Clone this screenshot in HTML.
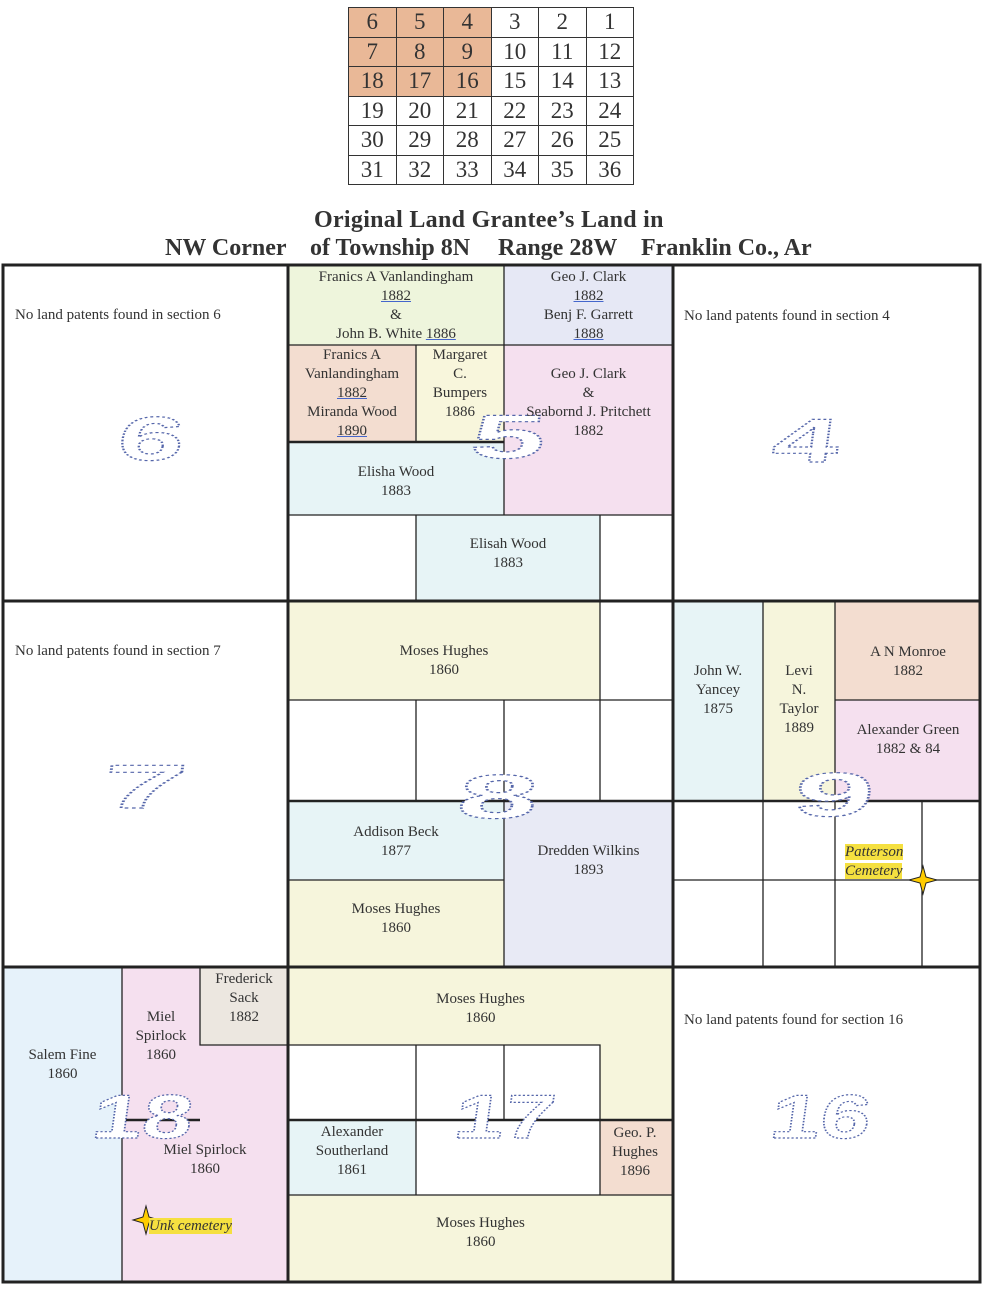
<!DOCTYPE html>
<html><head><meta charset="utf-8"><style>
body{margin:0;background:#fff;width:987px;height:1291px;position:relative;overflow:hidden;font-family:"Liberation Serif",serif;color:#333}
.r{position:absolute;box-sizing:border-box}
.t{position:absolute;font-size:15px;line-height:19px;text-align:center;color:#333}
.u{text-decoration:underline;text-decoration-color:#46c}
table{position:absolute;left:348px;top:7px;border-collapse:collapse;table-layout:fixed;width:286px}
td{border:1.5px solid #333;height:28.5px;font-size:23px;padding:0;text-align:center;line-height:28px;overflow:hidden}
td.o{background:#e9b897}
.h{position:absolute;font-weight:bold;font-size:24px;white-space:pre}
.hl{background:#f5e040;font-style:italic}
</style></head><body>
<table>
<tr><td class=o>6</td><td class=o>5</td><td class=o>4</td><td>3</td><td>2</td><td>1</td></tr>
<tr><td class=o>7</td><td class=o>8</td><td class=o>9</td><td>10</td><td>11</td><td>12</td></tr>
<tr><td class=o>18</td><td class=o>17</td><td class=o>16</td><td>15</td><td>14</td><td>13</td></tr>
<tr><td>19</td><td>20</td><td>21</td><td>22</td><td>23</td><td>24</td></tr>
<tr><td>30</td><td>29</td><td>28</td><td>27</td><td>26</td><td>25</td></tr>
<tr><td>31</td><td>32</td><td>33</td><td>34</td><td>35</td><td>36</td></tr>
</table>
<div class=h style="left:314px;top:207px;letter-spacing:0.3px">Original Land Grantee’s Land in</div>
<div class=h style="left:165px;top:235px">NW Corner</div>
<div class=h style="left:310px;top:235px">of Township 8N</div>
<div class=h style="left:498px;top:235px">Range 28W</div>
<div class=h style="left:641px;top:235px">Franklin Co., Ar</div>

<!-- fills -->
<div class=r style="left:288px;top:264px;width:216px;height:81px;background:#eef5dc"></div>
<div class=r style="left:504px;top:264px;width:169px;height:81px;background:#e6e8f5"></div>
<div class=r style="left:288px;top:345px;width:128px;height:97px;background:#f3ddd0"></div>
<div class=r style="left:416px;top:345px;width:88px;height:97px;background:#f8f6dc"></div>
<div class=r style="left:504px;top:345px;width:169px;height:170px;background:#f5e0ef"></div>
<div class=r style="left:288px;top:442px;width:216px;height:73px;background:#e7f4f6"></div>
<div class=r style="left:416px;top:515px;width:184px;height:86px;background:#e7f4f6"></div>
<div class=r style="left:288px;top:601px;width:312px;height:99px;background:#f6f5dc"></div>
<div class=r style="left:288px;top:801px;width:216px;height:79px;background:#e7f4f6"></div>
<div class=r style="left:288px;top:880px;width:216px;height:87px;background:#f6f5dc"></div>
<div class=r style="left:504px;top:801px;width:169px;height:166px;background:#e8eaf5"></div>
<div class=r style="left:673px;top:601px;width:90px;height:200px;background:#e7f4f6"></div>
<div class=r style="left:763px;top:601px;width:72px;height:200px;background:#f6f5dc"></div>
<div class=r style="left:835px;top:601px;width:146px;height:99px;background:#f3ddd0"></div>
<div class=r style="left:835px;top:700px;width:146px;height:101px;background:#f5e0ef"></div>
<div class=r style="left:3px;top:967px;width:119px;height:315px;background:#e6f2fa"></div>
<div class=r style="left:122px;top:967px;width:166px;height:315px;background:#f5e0ef"></div>
<div class=r style="left:200px;top:967px;width:88px;height:78px;background:#ece7e0"></div>
<div class=r style="left:288px;top:967px;width:385px;height:78px;background:#f6f5dc"></div>
<div class=r style="left:600px;top:1045px;width:73px;height:75px;background:#f6f5dc"></div>
<div class=r style="left:288px;top:1120px;width:128px;height:75px;background:#e7f4f6"></div>
<div class=r style="left:600px;top:1120px;width:73px;height:75px;background:#f3ddd0"></div>
<div class=r style="left:288px;top:1195px;width:385px;height:87px;background:#f6f5dc"></div>

<svg class=r style="left:0;top:0" width="987" height="1291">
<g stroke="#222" fill="none">
<rect x="3" y="265" width="977" height="1017" stroke-width="3"/>
<line x1="288" y1="264" x2="288" y2="1282" stroke-width="3"/>
<line x1="673" y1="264" x2="673" y2="1282" stroke-width="3"/>
<line x1="3" y1="601" x2="981" y2="601" stroke-width="3"/>
<line x1="3" y1="967" x2="981" y2="967" stroke-width="3"/>
<g stroke-width="1.3">
<path d="M504 264V515M288 345H673M416 345V442M288 442H504M288 515H673M416 515V601M600 515V601"/>
<path d="M600 601V801M288 700H673M416 700V801M504 700V967M288 880H504"/>
<path d="M763 601V967M835 601V967M835 700H981M922 801V967M673 880H981"/>
<path d="M122 967V1282M200 967V1045H288"/>
<path d="M288 1045H600V1195M416 1045V1195M504 1045V1120M288 1120H673M288 1195H673"/>
</g>
<line x1="288" y1="801" x2="673" y2="801" stroke-width="2.5"/>
<line x1="673" y1="801" x2="981" y2="801" stroke-width="2.5"/>
<line x1="122" y1="1120" x2="200" y2="1120" stroke-width="2.5"/>
<line x1="288" y1="1120" x2="673" y2="1120" stroke-width="2.5"/>
<line x1="288" y1="442" x2="504" y2="442" stroke-width="2.5"/>
</g>
<g font-family="Liberation Sans,sans-serif" font-weight="bold" font-size="62" fill="#fff" stroke="#56a" stroke-width="1.2" stroke-dasharray="1.5,1.5" text-anchor="middle" transform="skewX(-8)">
<text x="213" y="460" textLength="66" lengthAdjust="spacingAndGlyphs">6</text>
<text x="570" y="458" textLength="74" lengthAdjust="spacingAndGlyphs">5</text>
<text x="868" y="462" textLength="66" lengthAdjust="spacingAndGlyphs">4</text>
<text x="255" y="808" textLength="84" lengthAdjust="spacingAndGlyphs">7</text>
<text x="610" y="818" textLength="80" lengthAdjust="spacingAndGlyphs">8</text>
<text x="946" y="816" textLength="80" lengthAdjust="spacingAndGlyphs">9</text>
<text x="300" y="1138" textLength="100" lengthAdjust="spacingAndGlyphs">18</text>
<text x="662" y="1138" textLength="100" lengthAdjust="spacingAndGlyphs">17</text>
<text x="978" y="1138" textLength="100" lengthAdjust="spacingAndGlyphs">16</text>
</g>
<path d="M923 866L926 877L937 880L926 883L923 894L920 883L909 880L920 877Z" fill="#fc0" stroke="#222"/>
<path d="M146 1206L149 1217L159 1220L149 1223L146 1234L143 1223L133 1220L143 1217Z" fill="#fc0" stroke="#222"/>
</svg>

<div class=t style="left:15px;top:306px;text-align:left">No land patents found in section 6</div>
<div class=t style="left:684px;top:307px;text-align:left">No land patents found in section 4</div>
<div class=t style="left:15px;top:642px;text-align:left">No land patents found in section 7</div>
<div class=t style="left:684px;top:1011px;text-align:left">No land patents found for section 16</div>

<div class=t style="left:288px;top:268px;width:216px">Franics A Vanlandingham<br><span class=u>1882</span><br>&amp;<br>John B. White <span class=u>1886</span></div>
<div class=t style="left:504px;top:268px;width:169px">Geo J. Clark<br><span class=u>1882</span><br>Benj F. Garrett<br><span class=u>1888</span></div>
<div class=t style="left:288px;top:346px;width:128px">Franics A<br>Vanlandingham<br><span class=u>1882</span><br>Miranda Wood<br><span class=u>1890</span></div>
<div class=t style="left:416px;top:346px;width:88px">Margaret<br>C.<br>Bumpers<br>1886</div>
<div class=t style="left:504px;top:365px;width:169px">Geo J. Clark<br>&amp;<br>Seabornd J. Pritchett<br>1882</div>
<div class=t style="left:288px;top:463px;width:216px">Elisha Wood<br>1883</div>
<div class=t style="left:416px;top:535px;width:184px">Elisah Wood<br>1883</div>
<div class=t style="left:288px;top:642px;width:312px">Moses Hughes<br>1860</div>
<div class=t style="left:288px;top:823px;width:216px">Addison Beck<br>1877</div>
<div class=t style="left:288px;top:900px;width:216px">Moses Hughes<br>1860</div>
<div class=t style="left:504px;top:842px;width:169px">Dredden Wilkins<br>1893</div>
<div class=t style="left:673px;top:662px;width:90px">John W.<br>Yancey<br>1875</div>
<div class=t style="left:763px;top:662px;width:72px">Levi<br>N.<br>Taylor<br>1889</div>
<div class=t style="left:835px;top:643px;width:146px">A N Monroe<br>1882</div>
<div class=t style="left:835px;top:721px;width:146px">Alexander Green<br>1882 &amp; 84</div>
<div class=t style="left:845px;top:843px;text-align:left"><span class=hl>Patterson<br>Cemetery</span></div>
<div class=t style="left:3px;top:1046px;width:119px">Salem Fine<br>1860</div>
<div class=t style="left:122px;top:1008px;width:78px">Miel<br>Spirlock<br>1860</div>
<div class=t style="left:200px;top:970px;width:88px">Frederick<br>Sack<br>1882</div>
<div class=t style="left:122px;top:1141px;width:166px">Miel Spirlock<br>1860</div>
<div class=t style="left:149px;top:1217px;text-align:left"><span class=hl>Unk cemetery</span></div>
<div class=t style="left:288px;top:990px;width:385px">Moses Hughes<br>1860</div>
<div class=t style="left:288px;top:1123px;width:128px">Alexander<br>Southerland<br>1861</div>
<div class=t style="left:600px;top:1124px;width:70px">Geo. P.<br>Hughes<br>1896</div>
<div class=t style="left:288px;top:1214px;width:385px">Moses Hughes<br>1860</div>
</body></html>
